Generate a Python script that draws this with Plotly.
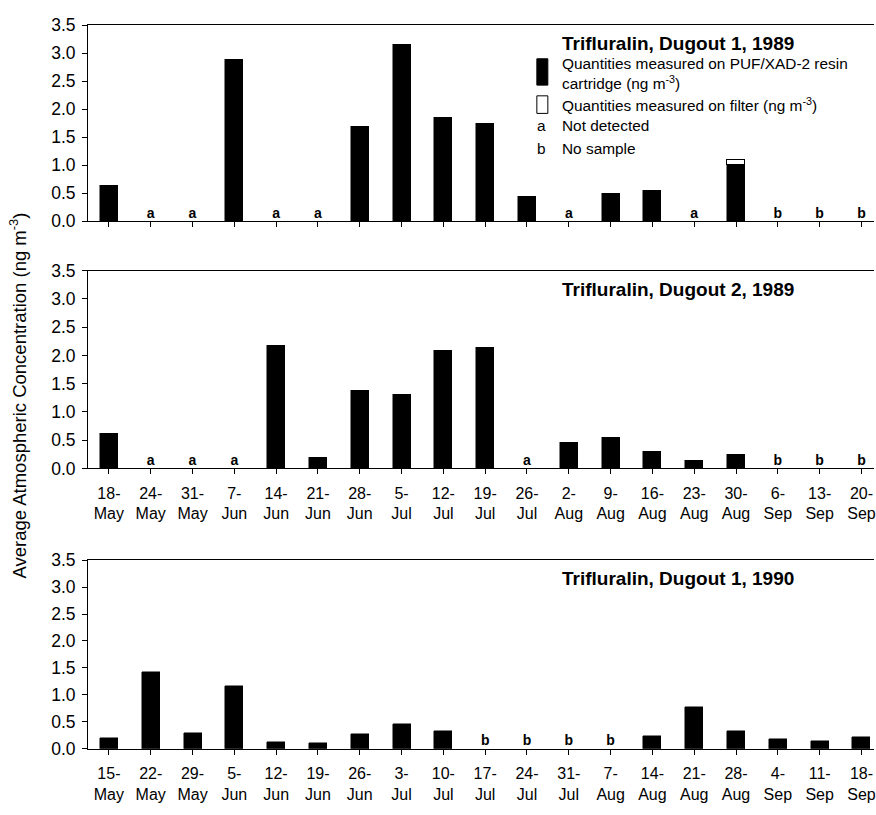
import plotly.graph_objects as go

# ---------------- data ----------------
dates_1989 = ["18-May", "24-May", "31-May", "7-Jun", "14-Jun", "21-Jun", "28-Jun", "5-Jul", "12-Jul",
              "19-Jul", "26-Jul", "2-Aug", "9-Aug", "16-Aug", "23-Aug", "30-Aug", "6-Sep", "13-Sep", "20-Sep"]
dates_1990 = ["15-May", "22-May", "29-May", "5-Jun", "12-Jun", "19-Jun", "26-Jun", "3-Jul", "10-Jul",
              "17-Jul", "24-Jul", "31-Jul", "7-Aug", "14-Aug", "21-Aug", "28-Aug", "4-Sep", "11-Sep", "18-Sep"]

# PUF/XAD-2 resin cartridge values (None = no bar)
d1_1989_resin = [0.65, None, None, 2.90, None, None, 1.70, 3.16, 1.85, 1.75, 0.44, None, 0.49, 0.56, None, 1.00, None, None, None]
d1_1989_filter = [None] * 15 + [0.08] + [None] * 3
d1_1989_flags = ["", "a", "a", "", "a", "a", "", "", "", "", "", "a", "", "", "a", "", "b", "b", "b"]

d2_1989_resin = [0.61, None, None, None, 2.18, 0.19, 1.38, 1.30, 2.09, 2.13, None, 0.46, 0.54, 0.30, 0.14, 0.235, None, None, None]
d2_1989_flags = ["", "a", "a", "a", "", "", "", "", "", "", "a", "", "", "", "", "", "b", "b", "b"]

d1_1990_resin = [0.19, 1.42, 0.29, 1.17, 0.13, 0.11, 0.27, 0.46, 0.33, None, None, None, None, 0.24, 0.78, 0.33, 0.18, 0.14, 0.22]
d1_1990_flags = ["", "", "", "", "", "", "", "", "", "b", "b", "b", "b", "", "", "", "", "", ""]

titles = ["Trifluralin, Dugout 1, 1989", "Trifluralin, Dugout 2, 1989", "Trifluralin, Dugout 1, 1990"]

# ---------------- layout helpers ----------------
W, H = 876, 815
L = 88
PW = W - L


def px_x(x):
    return (x - L) / PW


def px_y(y):
    return 1 - y / H


FONT = "Arial, Liberation Sans, sans-serif"

panels = [
    (dates_1989, d1_1989_resin, d1_1989_flags, (15.7, 216.5), False),
    (dates_1989, d2_1989_resin, d2_1989_flags, (267.3, 470.0), True),
    (dates_1990, d1_1990_resin, d1_1990_flags, (564.0, 757.3), True),
]

fig = go.Figure()
BW = 0.43

for i, (cats, vals, flags, (ytop, ybot), showlab) in enumerate(panels):
    n = i + 1
    xa = "x" if n == 1 else f"x{n}"
    ya = "y" if n == 1 else f"y{n}"
    idx = list(range(len(cats)))
    fig.add_trace(go.Bar(x=idx, y=vals, xaxis=xa, yaxis=ya, width=BW,
                         marker=dict(color="black", line=dict(color="black", width=0.5)),
                         showlegend=False, hoverinfo="skip"))
    if n == 1:
        fig.add_trace(go.Bar(x=idx, y=d1_1989_filter, xaxis=xa, yaxis=ya, width=BW,
                             marker=dict(color="white", line=dict(color="black", width=1.5)),
                             showlegend=False, hoverinfo="skip"))
    fx = [j for j, f in enumerate(flags) if f]
    ft = [f for f in flags if f]
    fig.add_trace(go.Scatter(x=fx, y=[0] * len(fx), text=ft, mode="text", textposition="top center",
                             textfont=dict(family=FONT, size=14, color="black", weight="bold"),
                             xaxis=xa, yaxis=ya, showlegend=False, hoverinfo="skip", cliponaxis=False))

    xkey = "xaxis" if n == 1 else f"xaxis{n}"
    ykey = "yaxis" if n == 1 else f"yaxis{n}"
    xdict = dict(
        domain=[0, 1], anchor=ya, range=[-0.5, 18.3],
        tickmode="array", tickvals=idx,
        showticklabels=showlab, ticklabeloverflow="allow", ticklabelstandoff=5,
        tickson="boundaries", ticks="outside", ticklen=5, tickcolor="black",
        showline=True, linecolor="black", linewidth=1, mirror=True,
        showgrid=False, zeroline=False,
        tickfont=dict(family=FONT, size=16, color="black"),
    )
    if showlab:
        xdict["ticktext"] = [c.replace("-", "-<br>") for c in cats]
    fig.layout[xkey] = xdict
    fig.layout[ykey] = dict(
        domain=[px_y(ybot), px_y(ytop)], anchor=xa, range=[0, 3.5],
        tick0=0, dtick=0.5, tickformat=".1f",
        ticks="outside", ticklen=5, tickcolor="black", ticklabelstandoff=3,
        showline=True, linecolor="black", linewidth=1,
        showgrid=False, zeroline=False,
        tickfont=dict(family=FONT, size=17.5, color="black"),
    )

annotations = []
title_y = [34, 287, 583]
for t, ty in zip(titles, title_y):
    annotations.append(dict(text=f"<b>{t}</b>", xref="paper", yref="paper", x=px_x(679), y=px_y(ty),
                            xanchor="center", yanchor="middle", showarrow=False,
                            font=dict(family=FONT, size=19, color="black")))

# legend (panel 1)
legend_font = dict(family=FONT, size=15.4, color="black")
annotations += [
    dict(text="Quantities measured on PUF/XAD-2 resin<br>cartridge (ng m<sup>-3</sup>)", xref="paper", yref="paper",
         x=px_x(561), y=px_y(65), xanchor="left", yanchor="middle", align="left", showarrow=False, font=legend_font),
    dict(text="Quantities measured on filter (ng m<sup>-3</sup>)", xref="paper", yref="paper",
         x=px_x(561), y=px_y(97), xanchor="left", yanchor="middle", align="left", showarrow=False, font=legend_font),
    dict(text="a", xref="paper", yref="paper", x=px_x(543), y=px_y(118), xanchor="center", yanchor="middle",
         showarrow=False, font=legend_font),
    dict(text="Not detected", xref="paper", yref="paper", x=px_x(561), y=px_y(118), xanchor="left",
         yanchor="middle", showarrow=False, font=legend_font),
    dict(text="b", xref="paper", yref="paper", x=px_x(543), y=px_y(142), xanchor="center", yanchor="middle",
         showarrow=False, font=legend_font),
    dict(text="No sample", xref="paper", yref="paper", x=px_x(561), y=px_y(142), xanchor="left",
         yanchor="middle", showarrow=False, font=legend_font),
    dict(text="Average Atmospheric Concentration (ng m<sup>-3</sup>)", xref="paper", yref="paper",
         x=px_x(18), y=px_y(395), xanchor="center", yanchor="middle", textangle=-90, showarrow=False,
         font=dict(family=FONT, size=18.5, color="black")),
]

shapes = [
    dict(type="rect", xref="paper", yref="paper", x0=px_x(538), x1=px_x(549), y0=px_y(77), y1=px_y(50),
         fillcolor="black", line=dict(color="black", width=1)),
    dict(type="rect", xref="paper", yref="paper", x0=px_x(538), x1=px_x(549), y0=px_y(106), y1=px_y(88),
         fillcolor="white", line=dict(color="black", width=1)),
]

fig.update_layout(
    width=W, height=H, margin=dict(l=L, r=0, t=0, b=0),
    barmode="stack", bargap=0,
    plot_bgcolor="white", paper_bgcolor="white",
    annotations=annotations, shapes=shapes,
    font=dict(family=FONT, color="black"),
)

fig.write_html("out.html")
